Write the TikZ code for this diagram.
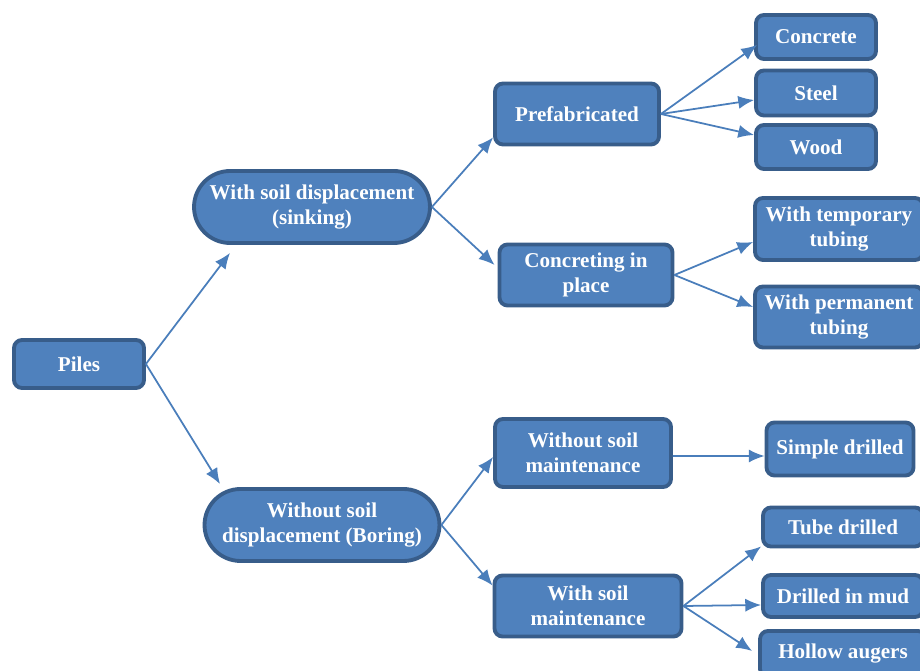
\documentclass[tikz,border=0pt]{standalone}
\usepackage{fontspec}
\setmainfont{Liberation Serif}
\usetikzlibrary{arrows.meta}
\definecolor{boxfill}{HTML}{4F81BD}
\definecolor{boxline}{HTML}{385D8A}
\definecolor{arrowline}{HTML}{4A7EBB}

\begin{document}
\begin{tikzpicture}[x=0.02cm, y=-0.02cm, >={Latex[length=9pt, width=7.5pt]}]
        \useasboundingbox (0,0) rectangle (920,671);
        \begin{scope}[every node/.style={draw=boxline, fill=boxfill, line width=2.2pt, rounded corners=0.16cm, text=white, font=\bfseries\fontsize{12}{14.2}\selectfont, align=center, inner sep=2pt}]
            \node[minimum width=2.6cm, minimum height=0.96cm] (1) at (79, 364) {Piles};
            \node[minimum width=4.72cm, minimum height=1.44cm, rounded corners=0.72cm] (2) at (312, 207) {With soil displacement\\(sinking)};
            \node[minimum width=4.7cm, minimum height=1.44cm, rounded corners=0.72cm] (3) at (322, 525) {Without soil\\displacement (Boring)};
            \node[minimum width=3.28cm, minimum height=1.22cm] (4) at (577, 114) {Prefabricated};
            \node[minimum width=3.46cm, minimum height=1.22cm] (5) at (586, 275) {Concreting in\\place};
            \node[minimum width=3.52cm, minimum height=1.36cm] (6) at (583, 453) {Without soil\\maintenance};
            \node[minimum width=3.74cm, minimum height=1.22cm] (7) at (588, 606) {With soil\\maintenance};
            \node[minimum width=2.4cm, minimum height=0.88cm] (8) at (816, 37) {Concrete};
            \node[minimum width=2.4cm, minimum height=0.9cm] (9) at (816, 93) {Steel};
            \node[minimum width=2.4cm, minimum height=0.88cm] (10) at (816, 147) {Wood};
            \node[minimum width=3.36cm, minimum height=1.24cm] (11) at (839, 229) {With temporary\\tubing};
            \node[minimum width=3.36cm, minimum height=1.22cm] (12) at (839, 317) {With permanent\\tubing};
            \node[minimum width=2.94cm, minimum height=1.06cm] (13) at (840, 449) {Simple drilled};
            \node[minimum width=3.2cm, minimum height=0.78cm] (14) at (843, 527) {Tube drilled};
            \node[minimum width=3.2cm, minimum height=0.84cm] (15) at (843, 596) {Drilled in mud};
            \node[minimum width=3.32cm, minimum height=0.92cm] (16) at (843, 654) {Hollow augers};
        \end{scope}

        \begin{scope}[draw=arrowline, line width=1pt]
            \draw[->] (1.east) -- ([xshift=-1.64cm, yshift=-0.16cm]2.south);
            \draw[->] (1.east) -- ([xshift=-2.04cm, yshift=0.06cm]3.north);
            \draw[->] (2.east) -- ([yshift=0.18cm]4.south west);
            \draw[->] (2.east) -- ([xshift=-0.06cm, yshift=0.2cm]5.west);
            \draw[->] (3.east) -- ([yshift=-0.08cm]6.west);
            \draw[->] (3.east) -- ([yshift=-0.24cm]7.north west);
            \draw[->] (4.east) -- ([xshift=0.06cm, yshift=0.32cm]8.south west);
            \draw[->] (4.east) -- ([yshift=-0.14cm]9.west);
            \draw[->] (4.east) -- ([yshift=0.24cm]10.west);
            \draw[->] (5.east) -- ([yshift=-0.26cm]11.west);
            \draw[->] (5.east) -- ([yshift=0.2cm]12.west);
            \draw[->] ([yshift=-0.06cm]6.east) -- ([yshift=-0.14cm]13.west);
            \draw[->] (7.east) -- ([yshift=0.04cm]14.south west);
            \draw[->] (7.east) -- ([yshift=-0.18cm]15.west);
            \draw[->] (7.east) -- ([xshift=-0.12cm, yshift=0.06cm]16.west);
        \end{scope}
    \end{tikzpicture}
\end{document}
